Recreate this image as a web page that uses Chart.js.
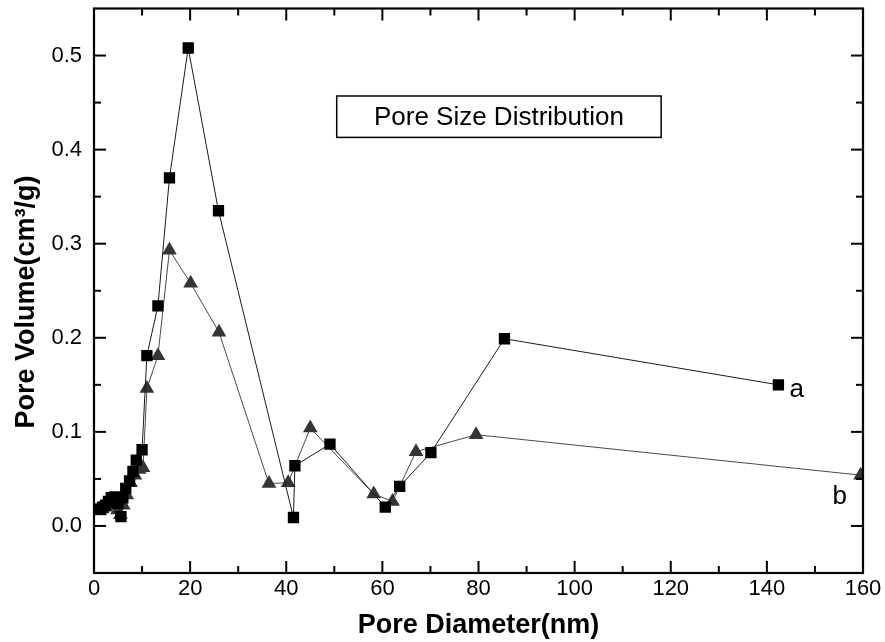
<!DOCTYPE html>
<html><head><meta charset="utf-8">
<script src="https://cdn.jsdelivr.net/npm/chart.js@4.4.0/dist/chart.umd.min.js"></script>
<style>html,body{margin:0;padding:0;background:#fff;}#wrap{width:885px;height:642px;}</style>
</head><body><div id="wrap"><canvas id="c" width="885" height="642"></canvas></div>
<script>
// ---- data ----
const seriesNames = ['a', 'b'];
const xA = [1.3, 1.8, 2.4, 3.0, 3.6, 4.3, 5.0, 5.6, 6.0, 6.6, 7.4, 8.1, 8.8, 10.0, 11.0, 13.3, 15.7, 19.6, 25.9, 41.5, 41.8, 49.1, 60.6, 63.6, 70.1, 85.4, 142.4];
const yA = [0.018, 0.020, 0.022, 0.026, 0.030, 0.031, 0.024, 0.010, 0.030, 0.040, 0.048, 0.058, 0.070, 0.081, 0.181, 0.234, 0.370, 0.508, 0.335, 0.009, 0.064, 0.087, 0.020, 0.042, 0.078, 0.199, 0.150];
const xB = [1.2, 1.7, 2.3, 2.9, 3.5, 4.2, 4.9, 5.5, 6.1, 6.8, 7.6, 8.5, 9.4, 10.2, 11.0, 13.3, 15.7, 20.1, 26.0, 36.4, 40.4, 45.0, 58.2, 62.1, 67.0, 79.5, 159.5];
const yB = [0.016, 0.018, 0.020, 0.022, 0.024, 0.022, 0.017, 0.012, 0.022, 0.033, 0.046, 0.054, 0.060, 0.062, 0.146, 0.181, 0.293, 0.258, 0.206, 0.045, 0.046, 0.104, 0.034, 0.026, 0.079, 0.097, 0.054];
const xTickValues = [0, 20, 40, 60, 80, 100, 120, 140, 160];
const xMinorTicks = [10, 30, 50, 70, 90, 110, 130, 150];
const yTickValues = [0.0, 0.1, 0.2, 0.3, 0.4, 0.5];
const yMinorTicks = [0.05, 0.15, 0.25, 0.35, 0.45];
const xTitle = 'Pore Diameter(nm)';
const yTitle = 'Pore Volume(cm\u00B3/g)   ';
const boxTitle = 'Pore Size Distribution';

const FONT = "'Liberation Sans', Arial, sans-serif";
Chart.defaults.font.family = FONT;
Chart.defaults.color = '#000';

const toPts = (xs, ys) => xs.map((v, i) => ({x: v, y: ys[i]}));

const decor = {
  id: 'decor',
  afterDatasetsDraw(chart) {
    const {ctx, chartArea: a, scales: {x, y}} = chart;
    ctx.save();
    ctx.strokeStyle = '#000';
    ctx.lineWidth = 2;
    const seg = (x1, y1, x2, y2) => { ctx.beginPath(); ctx.moveTo(x1, y1); ctx.lineTo(x2, y2); ctx.stroke(); };
    xTickValues.forEach(v => { const p = x.getPixelForValue(v); seg(p, a.bottom, p, a.bottom - 12); seg(p, a.top, p, a.top + 12); });
    xMinorTicks.forEach(v => { const p = x.getPixelForValue(v); seg(p, a.bottom, p, a.bottom - 7); seg(p, a.top, p, a.top + 7); });
    yTickValues.forEach(v => { const p = y.getPixelForValue(v); seg(a.left, p, a.left + 12, p); seg(a.right, p, a.right - 12, p); });
    yMinorTicks.forEach(v => { const p = y.getPixelForValue(v); seg(a.left, p, a.left + 7, p); seg(a.right, p, a.right - 7, p); });
    ctx.lineWidth = 2.2;
    ctx.strokeRect(a.left, a.top, a.right - a.left, a.bottom - a.top);

    // title box
    const bx1 = x.getPixelForValue(50.5), bx2 = x.getPixelForValue(118);
    const by1 = y.getPixelForValue(0.457), by2 = y.getPixelForValue(0.413);
    ctx.lineWidth = 1.5;
    ctx.fillStyle = '#fff';
    ctx.fillRect(bx1, by1, bx2 - bx1, by2 - by1);
    ctx.strokeRect(bx1, by1, bx2 - bx1, by2 - by1);
    ctx.fillStyle = '#000';
    ctx.font = '26px ' + FONT;
    ctx.textAlign = 'center';
    ctx.textBaseline = 'middle';
    ctx.fillText(boxTitle, (bx1 + bx2) / 2, (by1 + by2) / 2 + 1);

    // series labels
    ctx.textBaseline = 'alphabetic';
    ctx.textAlign = 'left';
    const la = chart.getDatasetMeta(0).data[xA.length - 1];
    ctx.fillText(seriesNames[0], la.x + 11, la.y + 12);
    const lb = chart.getDatasetMeta(1).data[xB.length - 1];
    ctx.fillText(seriesNames[1], lb.x - 28, lb.y + 29);
    ctx.restore();
  }
};

new Chart(document.getElementById('c'), {
  type: 'scatter',
  data: {
    datasets: [
      { label: seriesNames[0], data: toPts(xA, yA), showLine: true, clip: 0,
        borderColor: '#1a1a1a', borderWidth: 1, pointStyle: 'rect', pointRadius: 8,
        pointBackgroundColor: '#000', pointBorderWidth: 0, pointBorderColor: '#000' },
      { label: seriesNames[1], data: toPts(xB, yB), showLine: true, clip: 0,
        borderColor: '#4a4a4a', borderWidth: 1, pointStyle: 'triangle', pointRadius: 8.5,
        pointBackgroundColor: '#353535', pointBorderWidth: 0, pointBorderColor: '#353535' }
    ]
  },
  options: {
    responsive: false,
    animation: false,
    devicePixelRatio: 1,
    layout: { padding: { left: 0, top: 7, right: 22, bottom: 0 } },
    plugins: { legend: { display: false }, tooltip: { enabled: false } },
    scales: {
      x: {
        type: 'linear', min: 0, max: 160,
        grid: { display: false, drawTicks: false },
        border: { display: false },
        ticks: { font: { size: 22 }, padding: 3, color: '#000', maxRotation: 0, callback: v => String(v) },
        afterBuildTicks: s => { s.ticks = xTickValues.map(v => ({value: v})); },
        afterFit: s => { s.height = 69; s.paddingLeft = 0; s.paddingRight = 0; },
        title: { display: true, text: xTitle, font: { size: 27, weight: 'bold' }, padding: { top: 0, bottom: 0 }, color: '#000' }
      },
      y: {
        type: 'linear', min: -0.05, max: 0.55,
        grid: { display: false, drawTicks: false },
        border: { display: false },
        ticks: { font: { size: 22 }, padding: 12, color: '#000', callback: v => Number(v).toFixed(1) },
        afterBuildTicks: s => { s.ticks = yTickValues.map(v => ({value: v})); },
        afterFit: s => { s.width = 94; s.paddingTop = 0; s.paddingBottom = 0; },
        title: { display: true, text: yTitle, font: { size: 27, weight: 'bold' }, padding: { top: 10, bottom: 0 }, color: '#000' }
      }
    }
  },
  plugins: [decor]
});
</script>
</body></html>
